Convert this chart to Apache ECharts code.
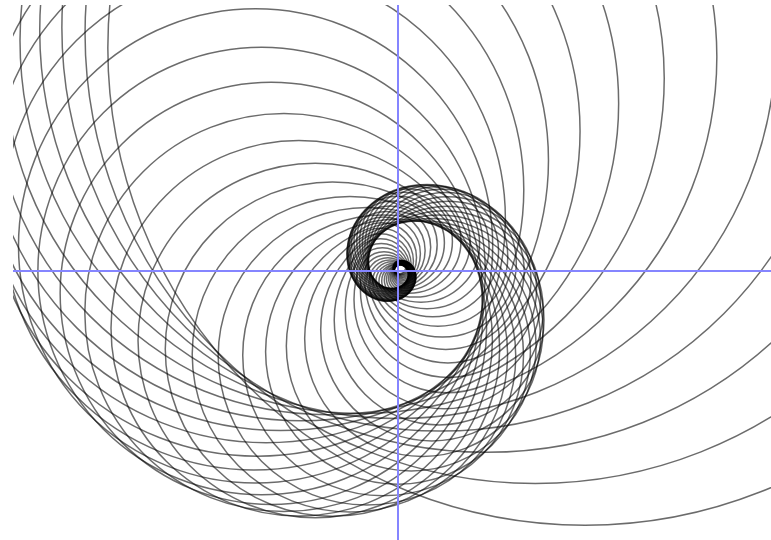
<!DOCTYPE html>
<html>
<head>
<meta charset="utf-8">
<script src="https://cdn.jsdelivr.net/npm/echarts@6/dist/echarts.min.js"></script>
<style>
html,body{margin:0;padding:0;background:#fff;}
#chart{width:771px;height:540px;}
</style>
</head>
<body>
<div id="chart"></div>
<script>
// Circle centres in polar form (angle in degrees, distance from the crossing of the axes) and circle radii
const centerAngle = [
  50,
  60,70,80,90,100,110,120,130,140,150,160,170,180,190,200,210,220,230,240,250,260,270,280,290,300,310,320,330,340,350,0,10,20,30,40,50,
  60,70,80,90,100,110,120,130,140,150,160,170,180,190,200,210,220,230,240,250,260,270,280,290,300,310,320,330,340,350,0,10,20,30,40,50,
  60,70
];
const centerDist = [
  290.97,
  274.5,258.97,244.31,230.48,217.43,205.12,193.51,182.56,172.22,162.48,153.28,144.60,136.42,128.70,121.41,114.54,108.06,101.94,96.17,90.72,85.59,80.75,76.18,71.86,67.80,63.96,60.34,56.92,53.70,50.66,47.79,45.09,42.54,40.13,37.86,35.72,
  33.69,31.79,29.99,28.29,26.69,25.18,23.75,22.41,21.14,19.94,18.81,17.75,16.74,15.80,14.90,14.06,13.26,12.51,11.80,11.14,10.51,9.91,9.35,8.82,8.32,7.85,7.41,6.99,6.59,6.22,5.87,5.53,5.22,4.93,4.65,4.38,
  4.14,3.90
];
const circleRadius = [
  477.2,
  450.2,424.7,400.7,378.0,356.6,336.4,317.4,299.4,282.4,266.5,251.4,237.1,223.7,211.1,199.1,187.8,177.2,167.2,157.7,148.8,140.4,132.4,124.9,117.9,111.2,104.9,99.0,93.3,88.1,83.1,78.4,73.9,69.8,65.8,62.1,58.6,
  55.3,52.1,49.2,46.4,43.8,41.3,39.0,36.8,34.7,32.7,30.8,29.1,27.5,25.9,24.4,23.1,21.7,20.5,19.4,18.3,17.2,16.3,15.3,14.5,13.6,12.9,12.2,11.5,10.8,10.2,9.6,9.1,8.6,8.1,7.6,7.2,
  6.8,6.4
];
const xRange = [-385, 373];
const yRange = [-269, 266];

const circleData = centerDist.map((d, i) => [d, centerAngle[i], circleRadius[i]]);

const chart = echarts.init(document.getElementById('chart'), null, {renderer: 'canvas'});
chart.setOption({
  animation: false,
  backgroundColor: '#ffffff',
  grid: {left: 13, top: 5, right: 0, bottom: 0},
  xAxis: {
    type: 'value', min: xRange[0], max: xRange[1], z: 10,
    axisLine: {show: true, onZero: true, lineStyle: {color: '#8585ff', width: 2}},
    axisTick: {show: false}, axisLabel: {show: false}, splitLine: {show: false}
  },
  yAxis: {
    type: 'value', min: yRange[0], max: yRange[1], z: 10,
    axisLine: {show: true, onZero: true, lineStyle: {color: '#8585ff', width: 2}},
    axisTick: {show: false}, axisLabel: {show: false}, splitLine: {show: false}
  },
  polar: {center: [398, 271], radius: 500},
  radiusAxis: {type: 'value', min: 0, max: 500, show: false},
  angleAxis: {type: 'value', min: 0, max: 360, startAngle: 0, clockwise: false, show: false},
  graphic: [
    {type: 'rect', left: 0, top: 0, z: 100, shape: {width: 13, height: 540}, style: {fill: '#ffffff'}},
    {type: 'rect', left: 0, top: 0, z: 100, shape: {width: 771, height: 5}, style: {fill: '#ffffff'}}
  ],
  series: [{
    type: 'custom',
    coordinateSystem: 'polar',
    silent: true,
    z: 2,
    data: circleData,
    renderItem: function (params, api) {
      const c = api.coord([api.value(0), api.value(1)]);
      const r = api.size([api.value(2), 0])[0];
      return {
        type: 'circle',
        shape: {cx: c[0], cy: c[1], r: r},
        style: {fill: null, stroke: 'rgba(0,0,0,0.58)', lineWidth: 1.5}
      };
    }
  }]
});
</script>
</body>
</html>
